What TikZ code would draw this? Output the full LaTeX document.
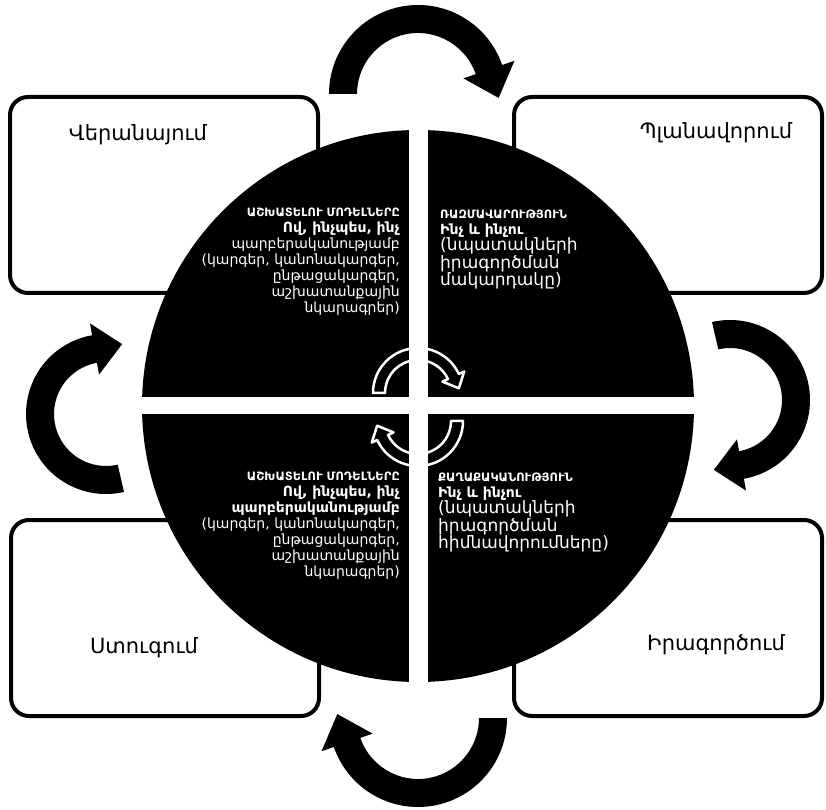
\documentclass[tikz,border=0pt]{standalone}
\usepackage{fontspec}
\setmainfont{DejaVu Sans}
\usetikzlibrary{calc}

% thick curved arrow: centre, radius, half width, start, end, head half width, head length, style
\newcommand{\cyclearrow}[8]{%
    \path[#8] (#1) ++(#4:#2+#3)
        arc[start angle=#4, end angle=#5, radius=#2+#3]
        -- ($(#1)+(#5:#2+#6)$)
        -- ($(#1)+(#5:#2)+(#5-90:#7)$)
        -- ($(#1)+(#5:#2-#6)$)
        -- ($(#1)+(#5:#2-#3)$)
        arc[start angle=#5, end angle=#4, radius=#2-#3] -- cycle;}

\begin{document}
\begin{tikzpicture}[
        x=1pt, y=1pt,
        stagebox/.style={
            draw,
            line width=4pt,
            rounded corners=18pt,
            fill=white,
            minimum width=308pt,
            minimum height=196pt,
            inner sep=0pt
        },
        stagelabel/.style={font=\fontsize{21}{25}\selectfont},
        quadtext/.style={text=white, inner sep=0pt, font=\fontsize{14}{16}\selectfont},
        bigarrow/.style={fill=black},
        smallarrow/.style={draw=white, line width=2.5pt, line join=round}
    ]
    \useasboundingbox (0,0) rectangle (826,809);

    \node[stagebox] (review) at (164,614) {};
    \node[stagebox] (planning) at (668,614) {};
    \node[stagebox] (building) at (165,191) {};
    \node[stagebox] (doing) at (668,191) {};

    \node[stagelabel] (reviewlabel) at (138,674) {Վերանայում};
    \node[stagelabel] (planninglabel) at (716,676) {Պլանավորում};
    \node[stagelabel] (buildinglabel) at (144,161) {Ստուգում};
    \node[stagelabel] (doinglabel) at (716,164) {Իրագործում};

    % the wheel and its cross
    \node[circle, fill=black, minimum size=552pt, inner sep=0pt] (wheel) at (418,403) {};
    \fill[white] ($(wheel.center)+(-9.5,-290)$) rectangle ($(wheel.center)+(9.5,290)$);
    \fill[white] ($(wheel.center)+(-290,-8.5)$) rectangle ($(wheel.center)+(290,8.5)$);

    \node[quadtext, anchor=north east, align=right] (modelstop) at (400,601)
        {{\bfseries\fontsize{11.5}{16}\selectfont ԱՇԽԱՏԵԼՈՒ ՄՈԴԵԼՆԵՐԸ}\\
         {\bfseries Ով, ինչպես, ինչ}\\
         պարբերականությամբ\\
         (կարգեր, կանոնակարգեր,\\
         ընթացակարգեր,\\
         աշխատանքային\\
         նկարագրեր)};
    \node[quadtext, anchor=north west, align=left] (strategy) at (440,599)
        {{\bfseries\fontsize{11.5}{15}\selectfont ՌԱԶՄԱՎԱՐՈՒԹՅՈՒՆ}\\
         {\bfseries Ինչ և ինչու}\\
         {\fontsize{17}{16.5}\selectfont (նպատակների}\\
         {\fontsize{17}{16.5}\selectfont իրագործման}\\
         {\fontsize{17}{16.5}\selectfont մակարդակը)}};
    \node[quadtext, anchor=north east, align=right] (modelsbottom) at (400,337)
        {{\bfseries\fontsize{11.5}{15.5}\selectfont ԱՇԽԱՏԵԼՈՒ ՄՈԴԵԼՆԵՐԸ}\\
         {\bfseries Ով, ինչպես, ինչ}\\
         {\bfseries պարբերականությամբ}\\
         (կարգեր, կանոնակարգեր,\\
         ընթացակարգեր,\\
         աշխատանքային\\
         նկարագրեր)};
    \node[quadtext, anchor=north west, align=left] (policy) at (438,336)
        {{\bfseries\fontsize{11.5}{15}\selectfont ՔԱՂԱՔԱԿԱՆՈՒԹՅՈՒՆ}\\
         {\bfseries Ինչ և ինչու}\\
         {\fontsize{17}{16.5}\selectfont (նպատակների}\\
         {\fontsize{17}{16.5}\selectfont իրագործման}\\
         {\fontsize{17}{16.5}\selectfont հիմնավորումները)}};

    % arrows between the stages
    \coordinate (toparc) at (418,715);
    \coordinate (rightarc) at (730,409);
    \coordinate (bottomarc) at (418,91);
    \coordinate (leftarc) at (106,395);
    \cyclearrow{toparc}{75}{14}{180}{19}{27}{30}{bigarrow}
    \cyclearrow{rightarc}{66}{14}{103}{-80}{26}{28}{bigarrow}
    \cyclearrow{bottomarc}{75}{14}{0}{-161}{27}{30}{bigarrow}
    \cyclearrow{leftarc}{66}{14}{283}{100}{26}{28}{bigarrow}

    % arrows inside the wheel
    \coordinate (spintop) at (418,416);
    \coordinate (spinbottom) at (418,388);
    \cyclearrow{spintop}{39}{6}{180}{25}{12}{13}{smallarrow}
    \cyclearrow{spinbottom}{39}{6}{0}{-155}{12}{13}{smallarrow}
\end{tikzpicture}
\end{document}
